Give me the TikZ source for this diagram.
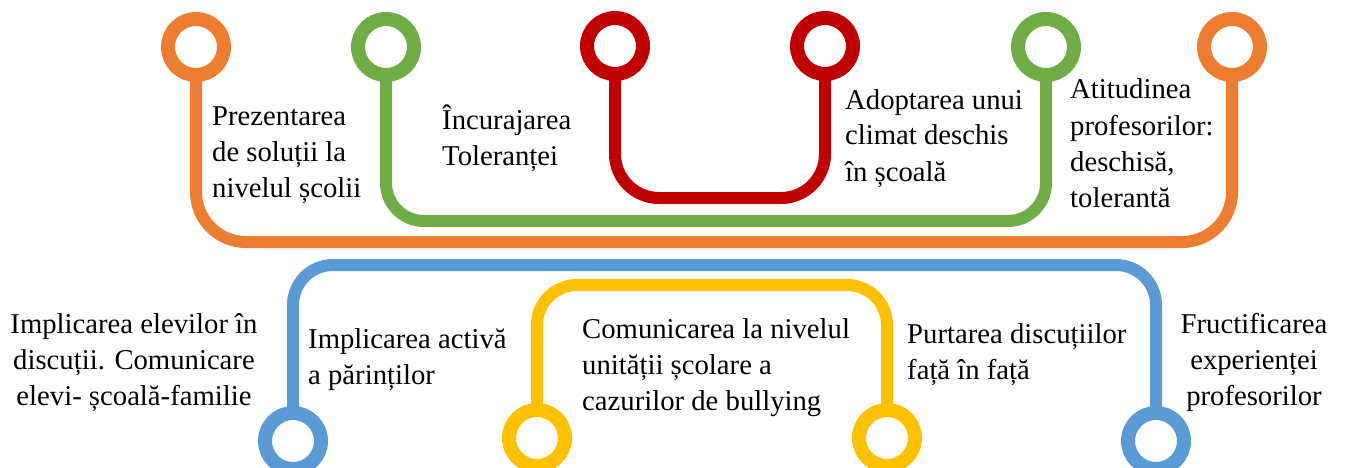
\documentclass[tikz,border=0pt]{standalone}
\usepackage{fontspec}
\setmainfont{Liberation Serif}
\usetikzlibrary{backgrounds}
\definecolor{cOrange}{HTML}{ED7D31}
\definecolor{cGreen}{HTML}{70AD47}
\definecolor{cRed}{HTML}{C00000}
\definecolor{cBlue}{HTML}{5B9BD5}
\definecolor{cYellow}{HTML}{FFC000}
\tikzset{
  ring/.style={circle, draw=#1, line width=14pt, fill=white, minimum size=56pt, inner sep=0pt},
  track/.style={draw=#1, line width=12pt},
  lbl/.style={inner sep=0pt, font=\fontsize{28.7}{36}\selectfont},
}
\begin{document}
\begin{tikzpicture}[x=1pt,y=-1pt]
\useasboundingbox (0,0) rectangle (1346,468);
% top rings
\node[ring=cOrange] (o1) at (196,47) {};
\node[ring=cOrange] (o2) at (1232,47) {};
\node[ring=cGreen] (g1) at (386,47) {};
\node[ring=cGreen] (g2) at (1046,47) {};
\node[ring=cRed] (r1) at (615,46) {};
\node[ring=cRed] (r2) at (825,46) {};
% bottom rings
\node[ring=cBlue] (b1) at (293,441) {};
\node[ring=cBlue] (b2) at (1156,441) {};
\node[ring=cYellow] (y1) at (537,438) {};
\node[ring=cYellow] (y2) at (887,438) {};
% levels
\coordinate (lo) at (0,242);
\coordinate (lg) at (0,221);
\coordinate (lr) at (0,198);
\coordinate (lb) at (0,265);
\coordinate (ly) at (0,285);
\begin{scope}[on background layer]
\draw[track=cOrange, rounded corners=50pt] (o1.center) -- (o1.center |- lo) -- (o2.center |- lo) -- (o2.center);
\draw[track=cGreen, rounded corners=38pt] (g1.center) -- (g1.center |- lg) -- (g2.center |- lg) -- (g2.center);
\draw[track=cRed, rounded corners=44pt] (r1.center) -- (r1.center |- lr) -- (r2.center |- lr) -- (r2.center);
\draw[track=cBlue, rounded corners=40pt] (b1.center) -- (b1.center |- lb) -- (b2.center |- lb) -- (b2.center);
\draw[track=cYellow, rounded corners=40pt] (y1.center) -- (y1.center |- ly) -- (y2.center |- ly) -- (y2.center);
\end{scope}
% labels (anchored at the baseline of their last line)
\node[lbl, anchor=base west, align=left] (t1) at (212,197) {Prezentarea\\de soluții la\\nivelul școlii};
\node[lbl, anchor=base west, align=left] (t2) at (442,165) {Încurajarea\\Toleranței};
\node[lbl, anchor=base west, align=left] (t3) at (845,181) {Adoptarea unui\\climat deschis\\în școală};
\node[lbl, anchor=base west, align=left] (t4) at (1070,207) {Atitudinea\\profesorilor:\\deschisă,\\tolerantă};
\node[lbl, anchor=base, align=center] (t5) at (134,405) {Implicarea elevilor în\\discuții. Comunicare\\elevi- școală-familie};
\node[lbl, anchor=base west, align=left] (t6) at (308,384) {Implicarea activă\\a părinților};
\node[lbl, anchor=base west, align=left] (t7) at (582,410) {Comunicarea la nivelul\\unității școlare a\\cazurilor de bullying};
\node[lbl, anchor=base west, align=left] (t8) at (907,379) {Purtarea discuțiilor\\față în față};
\node[lbl, anchor=base, align=center] (t9) at (1254,405) {Fructificarea\\experienței\\profesorilor};
\end{tikzpicture}
\end{document}
